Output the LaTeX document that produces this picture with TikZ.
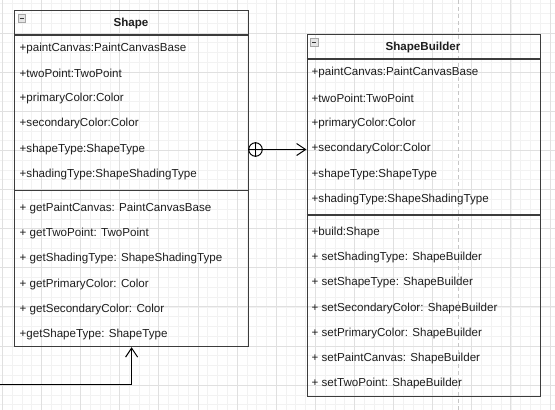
\documentclass[tikz,border=0pt]{standalone}
\usepackage{fontspec}
\setmainfont{Liberation Sans}
\usetikzlibrary{arrows.meta}
\definecolor{gridminor}{HTML}{F2F2F2}
\definecolor{gridmajor}{HTML}{E0E0E0}
\definecolor{boxline}{HTML}{3C3C3C}
\definecolor{txt}{HTML}{1E1E1E}
\tikzset{
  umlbox/.style={draw=boxline, line width=1.2pt, rectangle, anchor=north west, inner sep=0pt},
  sepline/.style={draw=boxline, line width=1.1pt},
  member/.style={anchor=west, inner sep=0pt, text=txt, font=\fontsize{11.6}{13}\selectfont},
  title/.style={inner sep=0pt, text=txt, font=\fontsize{11.6}{13}\selectfont\bfseries},
  minusicon/.style={draw=gray!70, fill=gray!20, minimum size=7.5pt, inner sep=0pt, anchor=north west, line width=0.6pt},
  conn/.style={draw=black, line width=1pt},
  opentip/.style={-{Straight Barb[length=9pt,width=12pt,line width=1pt]}}
}
\begin{document}
\begin{tikzpicture}[x=1pt,y=-1pt]
\useasboundingbox (0,0) rectangle (555,410);
\fill[white] (0,0) rectangle (555,410);
% grid
\foreach \i in {-1,...,57} {
  \pgfmathsetmacro\gx{2.3+9.78*\i}
  \draw[gridminor, line width=0.6pt] (\gx,0) -- (\gx,410);
}
\foreach \i in {-4,...,41} {
  \pgfmathsetmacro\gy{33+9.78*\i}
  \draw[gridminor, line width=0.6pt] (0,\gy) -- (555,\gy);
}
\foreach \i in {0,...,14} {
  \pgfmathsetmacro\gx{2.3+39.12*\i}
  \draw[gridmajor, line width=0.8pt] (\gx,0) -- (\gx,410);
}
\foreach \i in {-1,...,10} {
  \pgfmathsetmacro\gy{33+39.12*\i}
  \draw[gridmajor, line width=0.8pt] (0,\gy) -- (555,\gy);
}
% dashed vertical guide
\draw[gray!45, dashed, line width=0.8pt, dash pattern=on 4pt off 3pt] (458.5,0) -- (458.5,410);

% Shape class
\node[umlbox, minimum width=234pt, minimum height=336pt] (shape) at (14,10) {};
\draw[sepline] (14,35) -- (248,35);
\draw[sepline] (14,190.5) -- (248,190.5);
\node[minusicon] (shapeicon) at (17.5,14) {};
\draw[black!80, line width=1pt] (19.5,18) -- (23.5,18);
\node[title] (shapetitle) at (131,23) {Shape};
\node[member] (s1) at (19.5,48) {+paintCanvas:PaintCanvasBase};
\node[member] (s2) at (19.5,73) {+twoPoint:TwoPoint};
\node[member] (s3) at (19.5,98.5) {+primaryColor:Color};
\node[member] (s4) at (19.5,123.5) {+secondaryColor:Color};
\node[member] (s5) at (19.5,149) {+shapeType:ShapeType};
\node[member] (s6) at (19.5,174.5) {+shadingType:ShapeShadingType};
\node[member] (m1) at (19.5,208) {+ getPaintCanvas: PaintCanvasBase};
\node[member] (m2) at (19.5,233) {+ getTwoPoint: TwoPoint};
\node[member] (m3) at (19.5,258.5) {+ getShadingType: ShapeShadingType};
\node[member] (m4) at (19.5,284) {+ getPrimaryColor: Color};
\node[member] (m5) at (19.5,309) {+ getSecondaryColor: Color};
\node[member] (m6) at (19.5,334) {+getShapeType: ShapeType};

% ShapeBuilder class
\node[umlbox, minimum width=233pt, minimum height=362pt] (builder) at (306.5,34) {};
\draw[sepline] (306.5,59) -- (539.5,59);
\draw[sepline] (306.5,215) -- (539.5,215);
\node[minusicon] (buildericon) at (310,38) {};
\draw[black!80, line width=1pt] (312,42) -- (316,42);
\node[title] (buildertitle) at (423,47) {ShapeBuilder};
\node[member] (b1) at (311.5,72) {+paintCanvas:PaintCanvasBase};
\node[member] (b2) at (311.5,98) {+twoPoint:TwoPoint};
\node[member] (b3) at (311.5,123) {+primaryColor:Color};
\node[member] (b4) at (311.5,148) {+secondaryColor:Color};
\node[member] (b5) at (311.5,174) {+shapeType:ShapeType};
\node[member] (b6) at (311.5,199) {+shadingType:ShapeShadingType};
\node[member] (c1) at (311.5,232) {+build:Shape};
\node[member] (c2) at (311.5,257) {+ setShadingType: ShapeBuilder};
\node[member] (c3) at (311.5,282.5) {+ setShapeType: ShapeBuilder};
\node[member] (c4) at (311.5,308) {+ setSecondaryColor: ShapeBuilder};
\node[member] (c5) at (311.5,333) {+ setPrimaryColor: ShapeBuilder};
\node[member] (c6) at (311.5,358) {+ setPaintCanvas: ShapeBuilder};
\node[member] (c7) at (311.5,383) {+ setTwoPoint: ShapeBuilder};

% nesting connector
\node[circle, draw=black, line width=1pt, minimum size=13.5pt, inner sep=0pt] (nest) at (255.5,149.5) {};
\draw[conn] (nest.north) -- (nest.south);
\draw[conn] (nest.west) -- (nest.east);
\draw[conn, opentip] (nest.east) -- (builder.west |- nest.east);

% bottom connector
\coordinate (loose) at (0,384);
\draw[conn, opentip] (loose) -- (shape.south |- loose) -- (shape.south);
\end{tikzpicture}
\end{document}
